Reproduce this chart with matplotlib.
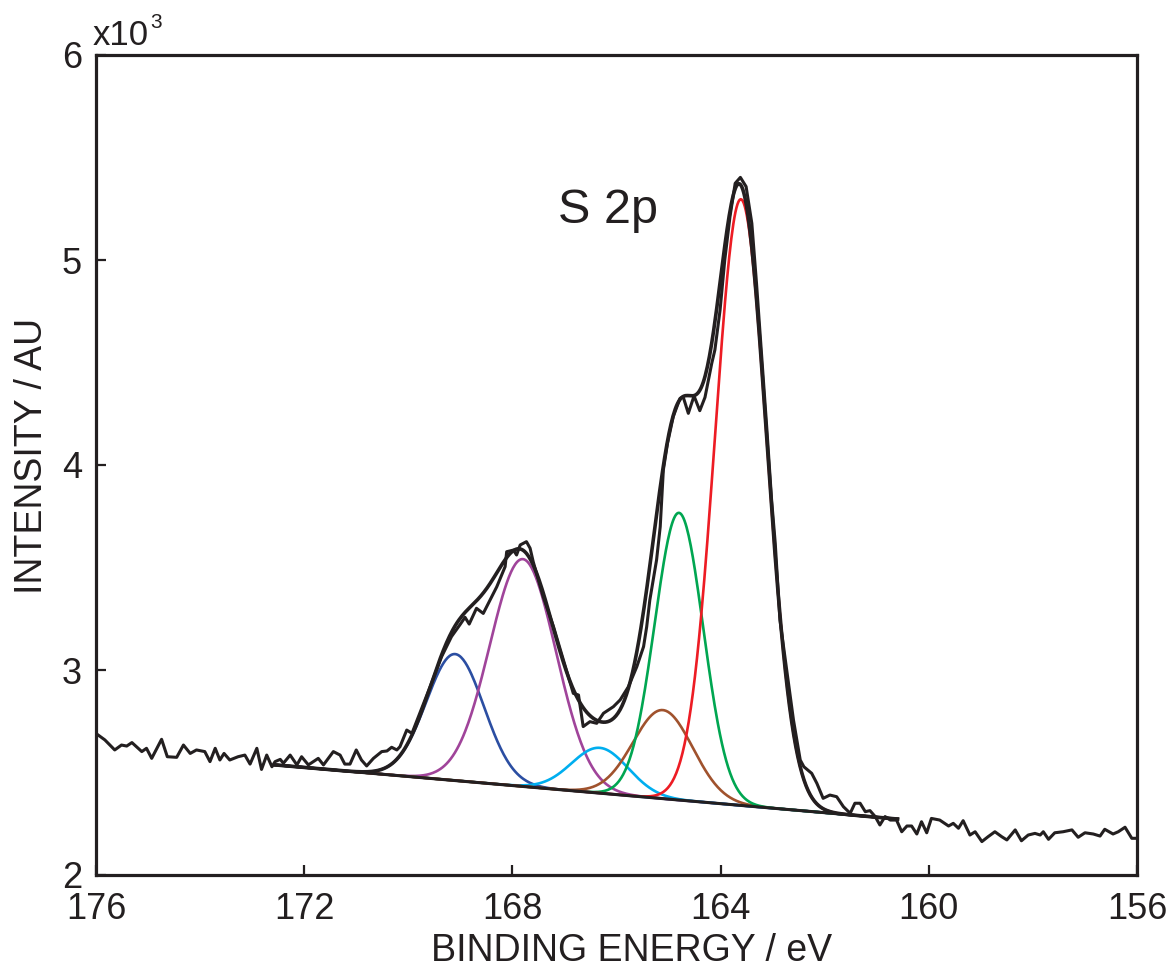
import numpy as np
import matplotlib
matplotlib.use("Agg")
import matplotlib.pyplot as plt

# ---------------- data ----------------
raw_energy = [175.96, 175.83, 175.64, 175.51, 175.41, 175.31, 175.12, 175.03, 174.93, 174.74,
              174.63, 174.45, 174.32, 174.19, 174.07, 173.91, 173.81, 173.71, 173.62, 173.54,
              173.43, 173.27, 173.14, 173.04, 172.91, 172.82, 172.72, 172.62, 172.56, 172.46,
              172.40, 172.27, 172.14, 172.05, 171.92, 171.73, 171.63, 171.44, 171.31, 171.22,
              171.12, 171.00, 170.90, 170.80, 170.67, 170.51, 170.41, 170.32, 170.22, 170.16,
              170.03, 169.93, 169.78, 169.58, 169.36, 169.17, 169.01, 168.91, 168.83, 168.69,
              168.56, 168.43, 168.30, 168.14, 168.11, 167.98, 167.92, 167.85, 167.73, 167.66,
              167.60, 167.41, 167.21, 167.02, 166.83, 166.73, 166.64, 166.51, 166.38, 166.25,
              166.06, 165.93, 165.77, 165.61, 165.48, 165.42, 165.36, 165.23, 165.16, 165.10,
              165.02, 164.91, 164.78, 164.72, 164.62, 164.51, 164.40, 164.30, 164.17, 164.11,
              164.01, 163.92, 163.82, 163.72, 163.62, 163.51, 163.40, 163.31, 163.21, 163.11,
              163.02, 162.95, 162.86, 162.73, 162.60, 162.47, 162.40, 162.25, 162.15, 162.03,
              161.90, 161.77, 161.64, 161.51, 161.42, 161.32, 161.22, 161.13, 161.03, 160.94,
              160.84, 160.74, 160.62, 160.52, 160.42, 160.33, 160.23, 160.14, 160.04, 159.95,
              159.79, 159.62, 159.53, 159.43, 159.34, 159.21, 159.11, 158.98, 158.86, 158.73,
              158.60, 158.50, 158.34, 158.22, 158.09, 157.96, 157.86, 157.80, 157.70, 157.58,
              157.42, 157.25, 157.13, 157.00, 156.84, 156.71, 156.62, 156.46, 156.36, 156.23,
              156.10, 156.01]
raw_intensity = [2683, 2659, 2610, 2634, 2629, 2646, 2602, 2618, 2569, 2662,
                 2577, 2574, 2634, 2593, 2610, 2602, 2553, 2618, 2561, 2593,
                 2561, 2577, 2585, 2541, 2618, 2515, 2585, 2528, 2553, 2564,
                 2545, 2585, 2537, 2577, 2537, 2569, 2537, 2602, 2585, 2541,
                 2541, 2610, 2561, 2532, 2569, 2602, 2605, 2623, 2610, 2626,
                 2707, 2691, 2789, 2919, 3065, 3163, 3220, 3257, 3224, 3301,
                 3276, 3341, 3406, 3504, 3577, 3585, 3561, 3610, 3626, 3594,
                 3528, 3358, 3211, 3049, 2886, 2878, 2724, 2748, 2740, 2789,
                 2821, 2854, 2919, 3016, 3114, 3211, 3341, 3537, 3699, 3976,
                 4106, 4236, 4325, 4333, 4252, 4337, 4265, 4330, 4496, 4561,
                 4756, 5000, 5211, 5374, 5403, 5358, 5179, 4886, 4528, 4171,
                 3829, 3618, 3244, 3000, 2756, 2561, 2528, 2496, 2447, 2374,
                 2390, 2382, 2333, 2301, 2350, 2350, 2309, 2314, 2285, 2244,
                 2285, 2268, 2268, 2211, 2239, 2239, 2200, 2260, 2206, 2276,
                 2268, 2239, 2252, 2228, 2265, 2195, 2211, 2163, 2187, 2211,
                 2187, 2171, 2220, 2167, 2195, 2203, 2195, 2211, 2174, 2206,
                 2211, 2220, 2184, 2206, 2200, 2190, 2223, 2200, 2211, 2233,
                 2179, 2179]

# linear background end points
bg_energy = [172.56, 160.60]
bg_intensity = [2537, 2273]

# fitted components: centre (eV), height above background, FWHM (eV)
comp_names = ["blue", "magenta", "cyan", "brown", "green", "red"]
comp_center = [169.10, 167.80, 166.32, 165.11, 164.80, 163.61]
comp_height = [617, 1109, 221, 432, 1401, 2957]
comp_fwhm = [1.30, 1.50, 1.28, 1.35, 1.10, 1.17]

x_ticks = [176, 172, 168, 164, 160, 156]
y_ticks = [2000, 3000, 4000, 5000, 6000]
y_tick_labels = ["2", "3", "4", "5", "6"]

# ---------------- style ----------------
comp_colors = {"blue": "#2b4ea2", "magenta": "#a0449a", "cyan": "#00aeef",
               "brown": "#a0522d", "green": "#00a651", "red": "#ed1c24"}
ink = "#231f20"
plt.rcParams["font.family"] = ["Liberation Sans", "DejaVu Sans"]

fig = plt.figure(figsize=(11.73, 9.68), dpi=100)
ax = fig.add_axes([96 / 1173, 93 / 968, (1137 - 96) / 1173, (875 - 55) / 968])

# background and model
e = np.linspace(bg_energy[0], bg_energy[1], 600)
bg = np.interp(e, bg_energy[::-1], bg_intensity[::-1])
envelope = bg.copy()
for name, c, h, w in zip(comp_names, comp_center, comp_height, comp_fwhm):
    s = w / (2 * np.sqrt(2 * np.log(2)))
    g = h * np.exp(-0.5 * ((e - c) / s) ** 2)
    envelope += g
    ax.plot(e, bg + g, color=comp_colors[name], lw=1.9, zorder=2)

ax.plot(bg_energy, bg_intensity, color=ink, lw=2.2, zorder=3)
ax.plot(raw_energy, raw_intensity, color=ink, lw=2.2, zorder=4)
ax.plot(e, envelope, color=ink, lw=2.6, zorder=5)

ax.set_xlim(176, 156)
ax.set_ylim(2000, 6000)
ax.set_xticks(x_ticks)
ax.set_xticklabels([str(t) for t in x_ticks])
ax.set_yticks(y_ticks)
ax.set_yticklabels(y_tick_labels)
ax.tick_params(direction="in", length=7, width=1.6, labelsize=26, colors=ink)
ax.tick_params(axis="x", pad=12)
ax.tick_params(axis="y", pad=10)
for sp in ax.spines.values():
    sp.set_linewidth(2.3)
    sp.set_color(ink)

ax.set_xlabel("BINDING ENERGY / eV", fontsize=27, color=ink)
ax.xaxis.set_label_coords(0.514, -0.0705)
ax.set_ylabel("INTENSITY / AU", fontsize=27, color=ink)
ax.yaxis.set_label_coords(-0.044, 0.511)

ax.text(0.444, 0.795, "S 2p", transform=ax.transAxes, fontsize=35,
        color=ink, ha="left", va="baseline")
ax.text(-0.003, 1.0122, "x10", transform=ax.transAxes, fontsize=25,
        color=ink, ha="left", va="baseline")
ax.text(0.0519, 1.033, "3", transform=ax.transAxes, fontsize=15,
        color=ink, ha="left", va="baseline")

fig.savefig("out.png", dpi=100)
